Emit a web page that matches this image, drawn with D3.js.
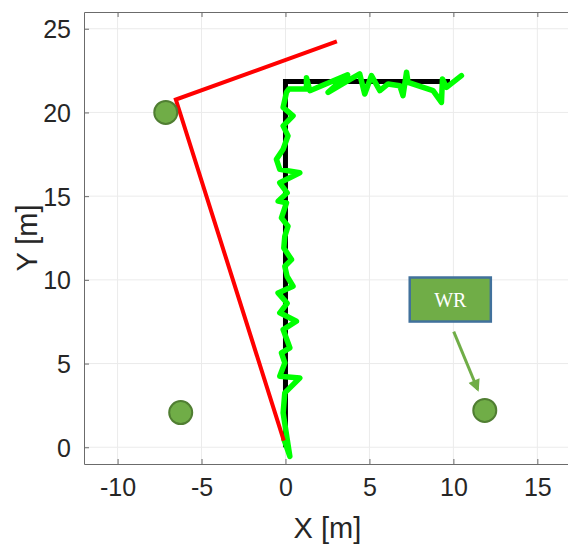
<!DOCTYPE html>
<html><head><meta charset="utf-8">
<script src="https://cdn.jsdelivr.net/npm/d3@7"></script>
<style>html,body{margin:0;padding:0;background:#fff;overflow:hidden}</style>
</head><body>
<svg id="c" width="568" height="544"></svg>
<script>
// ---- data ----
const xTicks = [-10, -5, 0, 5, 10, 15];
const yTicks = [0, 5, 10, 15, 20, 25];
const xDomain = [-12, 17];
const yDomain = [-1, 26];

const refX = [0, 0, 9.8];
const refY = [0, 21.85, 21.85];

const redX = [-0.1, -6.53, 3.06];
const redY = [0.4, 20.77, 24.24];

const greenX = [-0.1, 0.26, -0.14, -0.04, 0.85, -0.34, -0.04, -0.24, 0.26, -0.14, 0.65, -0.34, 0.1, -0.44, 0.45, 0.1, -0.04, 0.36, -0.1, -0.04, 0.15, -0.24, 0.06, -0.44, 0.1, -0.34, 0.85, -0.34, -0.54, -0.14, 0.15, -0.14, 0.45, -0.14, 0.06, 0.2, 1.25, 1.25, 1.45, 3.7, 2.54, 3.9, 4.42, 4.72, 5.12, 5.62, 6.11, 6.81, 7.0, 7.21, 7.3, 8.2, 8.79, 9.29, 9.35, 9.59, 10.48];
const greenY = [0.5, -0.54, 2.05, 3.25, 4.14, 4.24, 5.04, 5.64, 5.94, 7.03, 7.53, 8.03, 8.6, 9.22, 9.62, 10.2, 10.81, 11.21, 11.9, 12.6, 13.2, 13.7, 14.6, 14.7, 15.2, 15.8, 16.4, 16.6, 17.2, 17.8, 18.6, 19.2, 19.8, 20.3, 21.2, 21.4, 21.4, 22.07, 21.3, 22.25, 21.2, 22.0, 22.3, 21.1, 22.2, 21.3, 21.7, 21.6, 21.0, 22.4, 21.8, 21.5, 21.3, 20.6, 22.0, 21.5, 22.2];

const anchorX = [-7.13, -6.24, 11.87];
const anchorY = [20.0, 2.07, 2.2];

const wrLabel = "WR";
const wrBoxX = [7.40, 12.23];
const wrBoxY = [7.51, 10.14];
const wrArrowX = [10.02, 11.45];
const wrArrowY = [6.91, 3.45];

// ---- layout ----
const L = 84, T = 12, B = 464;
const R = L + 29 * 16.79;
const svg = d3.select("#c");
const x = d3.scaleLinear().domain(xDomain).range([L, R]);
const y = d3.scaleLinear().domain(yDomain).range([B, T]);
const font = "'Liberation Sans', Arial, Helvetica, sans-serif";
const axCol = "#262626";

// grid
svg.append("g").selectAll("line").data(xTicks).join("line")
  .attr("x1", d => x(d)).attr("x2", d => x(d)).attr("y1", T).attr("y2", B)
  .attr("stroke", "#ebebeb").attr("stroke-width", 1);
svg.append("g").selectAll("line").data(yTicks).join("line")
  .attr("x1", L).attr("x2", R).attr("y1", d => y(d)).attr("y2", d => y(d))
  .attr("stroke", "#ebebeb").attr("stroke-width", 1);

// axes
const fmt = d => String(d);
const xAxis = d3.axisBottom(x).tickValues(xTicks).tickFormat(fmt).tickSizeInner(-5).tickSizeOuter(0).tickPadding(14);
const gx = svg.append("g").attr("transform", `translate(0,${B})`).call(xAxis);
const yAxis = d3.axisLeft(y).tickValues(yTicks).tickFormat(fmt).tickSizeInner(-5).tickSizeOuter(0).tickPadding(13);
const gy = svg.append("g").attr("transform", `translate(${L},0)`).call(yAxis);
const xTop = d3.axisTop(x).tickValues(xTicks).tickSizeInner(-5).tickSizeOuter(0).tickFormat("");
const gt = svg.append("g").attr("transform", `translate(0,${T})`).call(xTop);
[gx, gy, gt].forEach(g => {
  g.select(".domain").attr("stroke", "#6b6b6b");
  g.selectAll(".tick line").attr("stroke", "#6b6b6b");
  g.selectAll("text").attr("font-family", font).attr("font-size", 25).attr("fill", axCol);
});
gy.selectAll("text").attr("dy", "0.36em");

// axis labels
svg.append("text").attr("x", (L + R) / 2).attr("y", 538).attr("text-anchor", "middle")
  .attr("font-family", font).attr("font-size", 29).attr("fill", axCol).text("X [m]");
svg.append("text").attr("transform", `translate(37,${(T + B) / 2}) rotate(-90)`).attr("text-anchor", "middle")
  .attr("font-family", font).attr("font-size", 29).attr("fill", axCol).text("Y [m]");

// paths
const line = d3.line().x(d => x(d[0])).y(d => y(d[1]));
const pts = (X, Y) => X.map((v, i) => [v, Y[i]]);
svg.append("path").attr("d", line(pts(refX, refY))).attr("fill", "none")
  .attr("stroke", "#000").attr("stroke-width", 5).attr("stroke-linejoin", "miter");
svg.append("path").attr("d", line(pts(greenX, greenY))).attr("fill", "none")
  .attr("stroke", "#00ff00").attr("stroke-width", 5.5).attr("stroke-linejoin", "round").attr("stroke-linecap", "round");
svg.append("path").attr("d", line(pts(redX, redY))).attr("fill", "none")
  .attr("stroke", "#ff0000").attr("stroke-width", 4).attr("stroke-linejoin", "miter");

// anchors
svg.append("g").selectAll("circle").data(pts(anchorX, anchorY)).join("circle")
  .attr("cx", d => x(d[0])).attr("cy", d => y(d[1])).attr("r", 11.5)
  .attr("fill", "#70ad47").attr("stroke", "#507e32").attr("stroke-width", 2);

// WR annotation
svg.append("defs").append("marker").attr("id", "ah").attr("viewBox", "0 0 10 10")
  .attr("refX", 8).attr("refY", 5).attr("markerWidth", 5).attr("markerHeight", 4)
  .attr("orient", "auto").attr("markerUnits", "strokeWidth")
  .append("path").attr("d", "M0,0 L10,5 L0,10 Z").attr("fill", "#70ad47");
svg.append("line").attr("x1", x(wrArrowX[0])).attr("y1", y(wrArrowY[0]))
  .attr("x2", x(wrArrowX[1])).attr("y2", y(wrArrowY[1]))
  .attr("stroke", "#70ad47").attr("stroke-width", 3).attr("marker-end", "url(#ah)");
svg.append("rect").attr("x", x(wrBoxX[0])).attr("y", y(wrBoxY[1]))
  .attr("width", x(wrBoxX[1]) - x(wrBoxX[0])).attr("height", y(wrBoxY[0]) - y(wrBoxY[1]))
  .attr("fill", "#70ad47").attr("stroke", "#41719c").attr("stroke-width", 2.5);
svg.append("text").attr("x", x((wrBoxX[0] + wrBoxX[1]) / 2)).attr("y", y((wrBoxY[0] + wrBoxY[1]) / 2) + 7)
  .attr("text-anchor", "middle").attr("font-family", "'Liberation Serif', 'Times New Roman', serif")
  .attr("font-size", 20).attr("fill", "#fff").text(wrLabel);
</script>
</body></html>
